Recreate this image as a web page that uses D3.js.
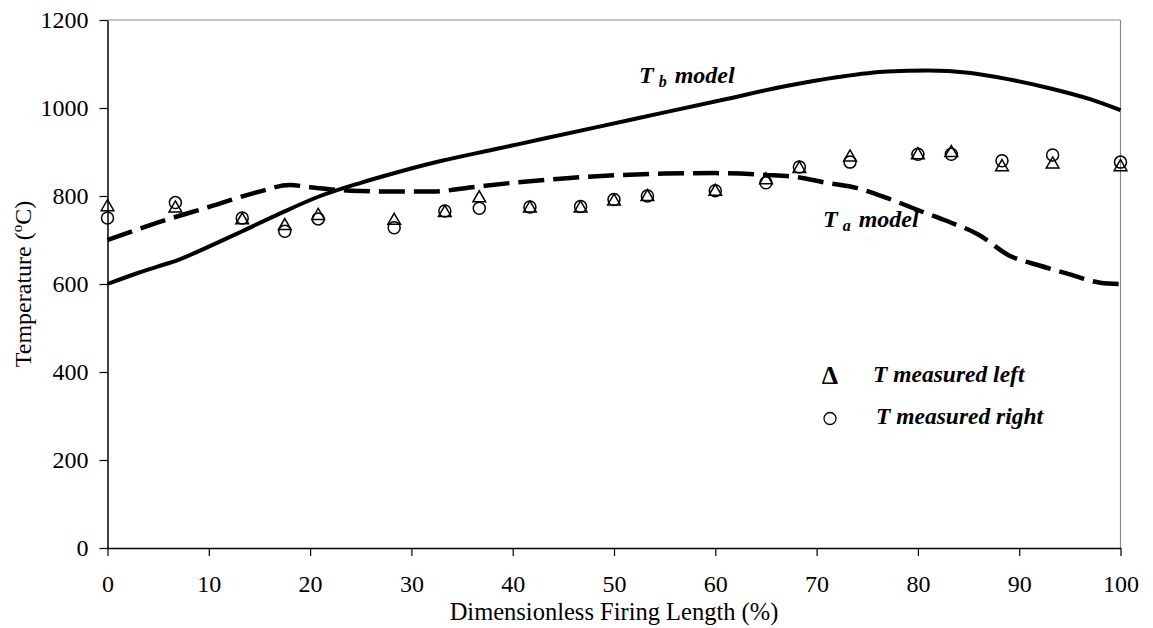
<!DOCTYPE html>
<html><head><meta charset="utf-8">
<script src="https://cdn.jsdelivr.net/npm/d3@7"></script>
<style>body{margin:0;background:#fff}svg{display:block}svg text{font-family:"Liberation Serif","Tinos","Times New Roman","DejaVu Serif",serif}</style>
</head><body><svg id="c" width="1153" height="628"></svg>
<script>
const measX = [0,6.7,13.3,17.5,20.8,28.3,33.3,36.7,41.7,46.7,50,53.3,60,65,68.3,73.3,80,83.3,88.3,93.3,100];
const measLeft = [775,772,745,732,755,744,762,795,772,772,788,798,810,836,862,888,893,898,866,872,866];
const measRight = [750,785,750,720,748,728,766,772,775,776,792,800,812,830,866,877,895,895,880,893,877];
const tbX = [0,3,5,7,10,13.3,17,21,25,28,33,38,43,49,55,61,67,72,77,81,85,89,93,97,100];
const tbY = [600,625,640,655,685,720,760,800,830,850,880,905,930,960,990,1020,1050,1070,1083,1085,1080,1065,1045,1020,995];
const taX = [0,5,10,15,18,20,24,28,32,36,40,45,50,55,60,65,68,71,74,77,80,83,86,89,92,95,98,100];
const taY = [700,740,775,810,825,820,812,810,810,820,830,840,847,851,852,848,843,830,818,795,768,742,712,665,642,622,603,600];
const xTicks = [0,10,20,30,40,50,60,70,80,90,100];
const yTicks = [0,200,400,600,800,1000,1200];

const FONT = '"Liberation Serif","Tinos","Times New Roman","DejaVu Serif",serif';
const svg = d3.select("#c");
const L=107.5, R=1120.5, T=20, B=548;
const x = d3.scaleLinear().domain([0,100]).range([L,R]);
const y = d3.scaleLinear().domain([0,1200]).range([B,T]);

svg.append("line").attr("x1",L).attr("x2",R).attr("y1",T).attr("y2",T).attr("stroke","#888").attr("stroke-width",1.2);
svg.append("line").attr("x1",R).attr("x2",R).attr("y1",T).attr("y2",B).attr("stroke","#888").attr("stroke-width",1.2);

const xa = svg.append("g").attr("transform",`translate(0,${B})`).call(d3.axisBottom(x).tickValues(xTicks).tickFormat(d3.format("d")).tickSize(8).tickPadding(19).tickSizeOuter(0));
const ya = svg.append("g").attr("transform",`translate(${L},0)`).call(d3.axisLeft(y).tickValues(yTicks).tickFormat(d3.format("d")).tickSize(8).tickPadding(11).tickSizeOuter(0));
[xa,ya].forEach(a=>{a.attr("font-family",FONT).attr("font-size",24);
 a.select(".domain").attr("stroke","#000").attr("stroke-width",1.5);
 a.selectAll(".tick line").attr("stroke","#000").attr("stroke-width",1.2);
 a.selectAll("text").style("font-family",FONT).style("font-size","24px").attr("fill","#000");});

const line = d3.line().curve(d3.curveMonotoneX);
svg.append("path").attr("d",line(tbX.map((d,i)=>[x(d),y(tbY[i])]))).attr("fill","none").attr("stroke","#000").attr("stroke-width",4);
svg.append("path").attr("d",line(taX.map((d,i)=>[x(d),y(taY[i])]))).attr("fill","none").attr("stroke","#000").attr("stroke-width",4.5).attr("stroke-dasharray","26,9");

const tri = d3.symbol().type(d3.symbolTriangle).size(70);
svg.append("g").selectAll("path").data(measX).join("path")
  .attr("d",tri).attr("transform",(d,i)=>`translate(${x(d)},${y(measLeft[i])})`)
  .attr("fill","none").attr("stroke","#000").attr("stroke-width",1.5);
svg.append("g").selectAll("circle").data(measX).join("circle")
  .attr("cx",d=>x(d)).attr("cy",(d,i)=>y(measRight[i])).attr("r",6)
  .attr("fill","none").attr("stroke","#000").attr("stroke-width",1.5);

function txt(px,py,size){
  return svg.append("text").attr("x",px).attr("y",py).style("font-family",FONT).style("font-size",size+"px");
}
function modelLabel(px,py,sub){
  const t = txt(px,py,24).attr("font-weight","bold").attr("font-style","italic");
  t.append("tspan").text("T");
  t.append("tspan").style("font-size","16px").attr("dx",5).attr("dy",4).text(sub);
  t.append("tspan").attr("dy",-4).attr("dx",8).text("model");
}
modelLabel(639,83,"b");
modelLabel(823,227,"a");

txt(830,384,26).attr("text-anchor","middle").attr("font-weight","bold").text("Δ");
svg.append("circle").attr("cx",830).attr("cy",418.5).attr("r",6).attr("fill","none").attr("stroke","#000").attr("stroke-width",1.3);
txt(873,382,23.5).attr("font-weight","bold").attr("font-style","italic").text("T measured left");
txt(876,424,23.5).attr("font-weight","bold").attr("font-style","italic").text("T measured right");

txt(614,620,24.5).attr("text-anchor","middle").text("Dimensionless Firing Length (%)");
const yt = svg.append("text").attr("transform","translate(31,284) rotate(-90)").attr("text-anchor","middle").style("font-family",FONT).style("font-size","24px");
yt.append("tspan").text("Temperature (");
yt.append("tspan").style("font-size","15px").attr("dy",-9).text("o");
yt.append("tspan").attr("dy",9).text("C)");
</script></body></html>
